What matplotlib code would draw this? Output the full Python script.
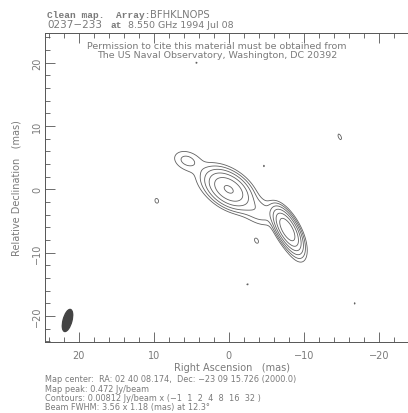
import numpy as np
import matplotlib.pyplot as plt
from matplotlib.patches import Ellipse

# model components: RA offset, Dec offset (mas), peak (Jy/beam),
# major, minor FWHM (mas), position angle (deg)
comp_ra = [0.0, -7.8, 3.0, 5.6, -4.0, -8.8, 9.6, -3.7, -14.8, -4.7, -2.5, -16.8, 4.3]
comp_dec = [0.0, -6.3, 2.2, 4.6, -3.5, -9.0, -1.8, -8.1, 8.3, 3.7, -15.0, -18.0, 20.0]
comp_peak = [0.28, 0.472, 0.006, 0.018, 0.025, 0.02, 0.0095, 0.0095, 0.0095, 0.0084, 0.0084, 0.0084, 0.0084]
comp_maj = [4.2, 4.0, 6.0, 3.0, 4.0, 4.0, 1.6, 1.8, 2.0, 1.2, 1.2, 1.2, 1.2]
comp_min = [2.6, 1.5, 4.5, 2.2, 2.6, 1.6, 1.0, 1.0, 0.8, 0.8, 0.8, 0.8, 0.8]
comp_pa = [45, 24, 55, 60, 50, 20, 10, 20, 20, 0, 0, 0, 0]

base = 0.00812
mult = [-1, 1, 2, 4, 8, 16, 32]
beam = (3.56, 1.18, 12.3)
beam_pos = (21.5, -20.7)

info = ["Map center:  RA: 02 40 08.174,  Dec: \u221223 09 15.726 (2000.0)",
        "Map peak: 0.472 Jy/beam",
        "Contours: 0.00812 Jy/beam x (\u22121  1  2  4  8  16  32 )",
        "Beam FWHM: 3.56 x 1.18 (mas) at 12.3\u00b0"]

gray = "#7a7a7a"
plt.rcParams['font.family'] = ['DejaVu Sans']

x = np.linspace(26, -27, 400)
y = np.linspace(-25, 26, 400)
X, Y = np.meshgrid(x, y)
img = np.zeros_like(X)
k = 4 * np.log(2)
for ra, de, pk, a, b, pa in zip(comp_ra, comp_dec, comp_peak, comp_maj, comp_min, comp_pa):
    t = np.deg2rad(pa)
    u = (X - ra) * np.sin(t) + (Y - de) * np.cos(t)
    v = (X - ra) * np.cos(t) - (Y - de) * np.sin(t)
    img += pk * np.exp(-k * ((u / a) ** 2 + (v / b) ** 2))

fig = plt.figure(figsize=(4.08, 4.14), dpi=100)
ax = fig.add_axes([45 / 408, 71 / 414, 375 / 408, 309 / 414])
levels = [base * m for m in mult if m > 0]
ax.contour(X, Y, img, levels=levels, colors="#606060", linewidths=0.6)
ax.add_patch(Ellipse(beam_pos, beam[1], beam[0], angle=beam[2], color="#444444"))

ax.set_xlim(24.5, -25.5)
ax.set_ylim(-24.1, 24.7)
ax.set_xticks([20, 10, 0, -10, -20])
ax.set_yticks([-20, -10, 0, 10, 20])
ax.set_xticks(np.arange(-24, 25, 2), minor=True)
ax.set_yticks(np.arange(-24, 25, 2), minor=True)
ax.set_xticklabels(["20", "10", "0", "\u221210", "\u221220"])
ax.set_yticklabels(["\u221220", "\u221210", "0", "10", "20"], rotation=90, va="center")
ax.tick_params(which="both", direction="in", top=True, right=True, colors="#555555",
               labelsize=7, labelcolor=gray)
ax.tick_params(which="major", length=7, width=0.6)
ax.tick_params(which="minor", length=3.5, width=0.6)
ax.tick_params(axis="x", which="major", pad=6)
ax.tick_params(axis="y", which="major", pad=2)
for s in ax.spines.values():
    s.set_color("#555555")
    s.set_linewidth(0.7)
ax.set_xlabel("Right Ascension   (mas)", color=gray, fontsize=7, labelpad=1)
ax.set_ylabel("Relative Declination   (mas)", color=gray, fontsize=7, labelpad=8)

ax.text(0.459, 0.975, "Permission to cite this material must be obtained from\n"
        "The US Naval Observatory, Washington, DC 20392",
        transform=ax.transAxes, ha="center", va="top", fontsize=6.8, color=gray,
        linespacing=1.0)

fig.text(47 / 408, 1 - 15 / 414, "Clean map.  Array:", fontsize=6.8, color=gray,
         family="Liberation Mono", weight="bold", va="center")
fig.text(150 / 408, 1 - 15 / 414, "BFHKLNOPS", fontsize=7.2, color=gray, va="center")
fig.text(47 / 408, 1 - 25 / 414, "0237\u2212233", fontsize=7.5, color=gray, va="center")
fig.text(111 / 408, 1 - 25 / 414, "at", fontsize=6.8, color=gray,
         family="Liberation Mono", weight="bold", va="center")
fig.text(128 / 408, 1 - 25 / 414, "8.550 GHz 1994 Jul 08", fontsize=6.8, color=gray,
         va="center")

for i, line in enumerate(info):
    fig.text(45 / 408, 1 - (380 + 9.3 * i) / 414, line, fontsize=5.9, color=gray,
             va="center")

fig.savefig("out.png", dpi=100)
